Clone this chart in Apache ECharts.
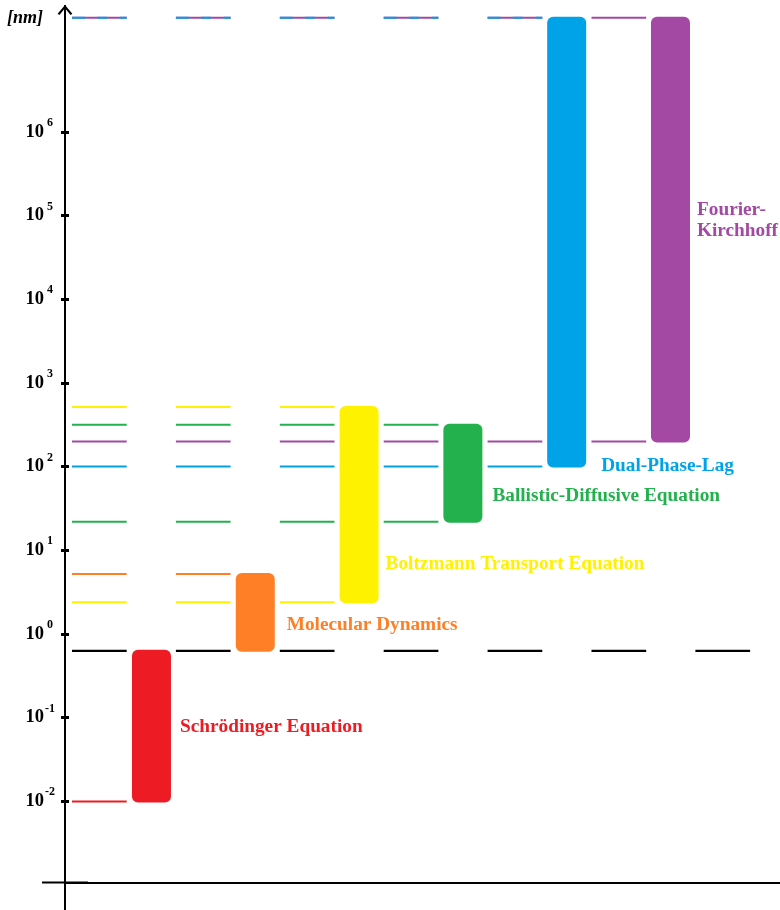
<!DOCTYPE html>
<html>
<head>
<meta charset="utf-8">
<script src="https://cdn.jsdelivr.net/npm/echarts@6/dist/echarts.min.js"></script>
<style>
  html, body { margin: 0; padding: 0; background: #ffffff; }
  #chart { width: 780px; height: 910px; }
</style>
</head>
<body>
<div id="chart"></div>
<script>
// Length scales (nm) over which each heat-transport model applies
const methods = [
  'Schrödinger Equation',
  'Molecular Dynamics',
  'Boltzmann Transport Equation',
  'Ballistic-Diffusive Equation',
  'Dual-Phase-Lag',
  'Fourier-\nKirchhoff'
];
const rangeLow  = [0.01, 0.63, 2.4, 22, 100, 200];
const rangeHigh = [0.63, 5.2, 514, 316, 2.3e7, 2.3e7];
// Quantum / classical boundary, drawn as a black dashed line across the chart
const boundary = 0.63;
// Decade exponents that carry a tick and a label on the length axis
const tickExponents = [-2, -1, 0, 1, 2, 3, 4, 5, 6];

// ---- styling / layout ----
const colors = ['#ED1C24', '#FF7F27', '#FFF200', '#22B14C', '#00A2E8', '#A349A4'];
const Y_MIN = -2.969, Y_MAX = 7.503;   // axis range in log10(nm)
const X_MAX = 6.888;                   // horizontal extent in column units
const BAR_SHIFT = 0.833;               // model i sits at x = i + BAR_SHIFT
const BAR_W = 39;
const GUIDE_START = 0.0674;
const DASH = [54.7, 49.2];
const SPLIT_DASH = [13, 12, 10, 13, 6.7, 49.2];
// label offsets (px) from the bar's right edge / vertical middle
const labelPlace = [
  { dx: 9,  dy: 0.5 },
  { dx: 12, dy: 12.5 },
  { dx: 7,  dy: 59.5 },
  { dx: 10, dy: 22.5 },
  { dx: 15, dy: 223.5 },
  { dx: 7,  dy: -9.5 }
];
const SERIF = '"Liberation Serif", "Times New Roman", serif';
const chevron = 'path://M0,9 L7.5,0 L15,9 L13.2,10.2 L7.5,3.2 L1.8,10.2 Z';

// ---- derived series data ----
const barData = methods.map((m, i) => [i + BAR_SHIFT, Math.log10(rangeLow[i]), Math.log10(rangeHigh[i])]);

// guide lines from the axis to each bar end: [xEnd, log10(v), colourIndex, split]
const guideData = [];
methods.forEach((m, i) => {
  [rangeLow[i], rangeHigh[i]].forEach(v => {
    if (v === boundary) return;
    // a shorter line lying on top of a longer one of the same value is drawn split
    let split = 0;
    methods.forEach((n, j) => {
      if (j > i && (rangeLow[j] === v || rangeHigh[j] === v)) split = 1;
    });
    guideData.push([i + BAR_SHIFT, Math.log10(v), i, split]);
  });
});
guideData.sort((a, b) => a[3] - b[3]);
guideData.push([X_MAX, Math.log10(boundary), -1, 0]);

function renderGuide(params, api) {
  const xEnd = api.value(0);
  const y = api.value(1);
  const ci = api.value(2);
  const split = api.value(3);
  const p0 = api.coord([GUIDE_START, y]);
  let x2;
  if (ci < 0) {
    x2 = params.coordSys.x + params.coordSys.width;
  } else {
    x2 = api.coord([xEnd, y])[0] - BAR_W / 2;
  }
  return {
    type: 'line',
    shape: { x1: p0[0], y1: p0[1], x2: x2, y2: p0[1] },
    style: {
      stroke: ci < 0 ? '#000000' : colors[ci],
      lineWidth: ci < 0 ? 2.3 : 2,
      lineDash: split ? SPLIT_DASH : DASH
    }
  };
}

function renderBar(params, api) {
  const i = params.dataIndex;
  const x = api.value(0);
  const top = api.coord([x, api.value(2)]);
  const bottom = api.coord([x, api.value(1)]);
  const left = top[0] - BAR_W / 2;
  const lab = labelPlace[i];
  return {
    type: 'group',
    children: [
      {
        type: 'rect',
        shape: { x: left, y: top[1] - 1, width: BAR_W, height: bottom[1] - top[1] + 2, r: 6 },
        style: { fill: colors[i] }
      },
      {
        type: 'text',
        x: left + BAR_W + lab.dx,
        y: (top[1] + bottom[1]) / 2 + lab.dy,
        style: {
          text: methods[i],
          fill: colors[i],
          fontFamily: SERIF,
          fontWeight: 'bold',
          fontSize: 19.3,
          lineHeight: 21,
          align: 'left',
          verticalAlign: 'middle'
        }
      }
    ]
  };
}

const chart = echarts.init(document.getElementById('chart'), null, { renderer: 'canvas' });
chart.setOption({
  animation: false,
  backgroundColor: '#ffffff',
  grid: { left: 65, right: 0, top: 6, bottom: 27.5, containLabel: false, outerBoundsMode: 'none' },
  xAxis: [{
    type: 'value',
    min: 0,
    max: X_MAX,
    axisLine: {
      show: true,
      onZero: false,
      symbol: ['rect', 'none'],
      symbolSize: [2, 46],
      lineStyle: { color: '#000000', width: 2 }
    },
    axisTick: { show: false },
    axisLabel: { show: false },
    splitLine: { show: false }
  }],
  yAxis: [{
    type: 'value',
    position: 'left',
    min: Y_MIN,
    max: Y_MAX,
    name: '[nm]',
    nameLocation: 'end',
    nameGap: -12.5,
    nameMoveOverlap: false,
    nameTextStyle: {
      fontFamily: SERIF,
      fontWeight: 'bold',
      fontStyle: 'italic',
      fontSize: 18,
      color: '#000000',
      align: 'right',
      verticalAlign: 'middle',
      padding: [0, 22, 0, 0]
    },
    axisLine: {
      show: true,
      onZero: false,
      symbol: ['none', chevron],
      symbolSize: [15, 10],
      symbolOffset: [0, -4],
      lineStyle: { color: '#000000', width: 2 }
    },
    axisTick: {
      show: true,
      inside: false,
      length: 4,
      customValues: tickExponents,
      lineStyle: { color: '#000000', width: 3 }
    },
    axisLabel: {
      show: true,
      margin: 9,
      customValues: tickExponents,
      formatter: v => '{b|10}{s|' + v + '}',
      rich: {
        b: { fontFamily: SERIF, fontWeight: 'bold', fontSize: 18.5, lineHeight: 30, color: '#000000' },
        s: { fontFamily: SERIF, fontWeight: 'bold', fontSize: 12, lineHeight: 14, color: '#000000',
             verticalAlign: 'top', width: 12, align: 'left' }
      }
    },
    splitLine: { show: false }
  }, {
    type: 'value',
    position: 'left',
    min: Y_MIN,
    max: Y_MAX,
    axisLine: {
      show: true,
      onZero: false,
      symbol: ['rect', 'none'],
      symbolSize: [2, 56],
      lineStyle: { color: '#000000', width: 2 }
    },
    axisTick: {
      show: true,
      inside: true,
      length: 4,
      customValues: tickExponents,
      lineStyle: { color: '#000000', width: 3 }
    },
    axisLabel: { show: false },
    splitLine: { show: false }
  }],
  series: [{
    name: 'guides',
    type: 'custom',
    xAxisIndex: 0,
    yAxisIndex: 0,
    z: 2,
    renderItem: renderGuide,
    encode: { x: 0, y: 1 },
    data: guideData
  }, {
    name: 'models',
    type: 'custom',
    xAxisIndex: 0,
    yAxisIndex: 0,
    z: 3,
    renderItem: renderBar,
    encode: { x: 0, y: [1, 2] },
    data: barData
  }]
});
</script>
</body>
</html>
